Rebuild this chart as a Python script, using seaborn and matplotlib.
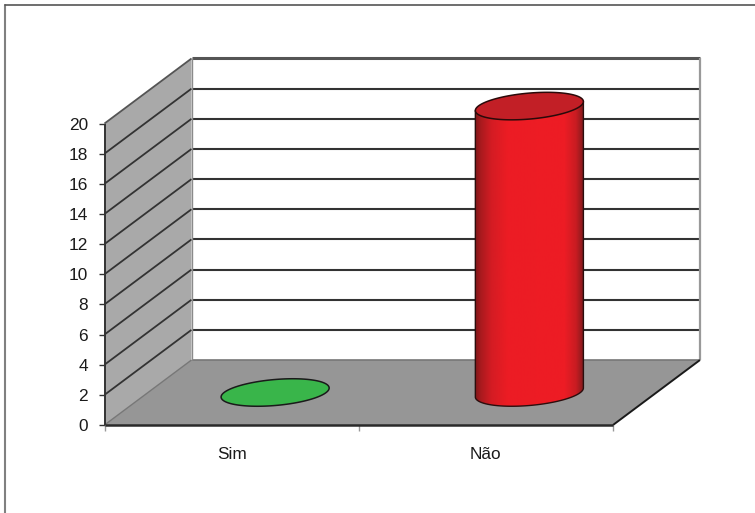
import numpy as np
import pandas as pd
import matplotlib
matplotlib.use("Agg")
import matplotlib.pyplot as plt
from matplotlib.patches import Polygon
from matplotlib.lines import Line2D
from matplotlib.colors import LinearSegmentedColormap
import seaborn as sns

categories = ["Sim", "Não"]
values = [0, 19]
bar_colors = ["#39b54a", "#ee1c25"]
y_ticks = list(range(0, 21, 2))

sns.set_theme(style="white")
plt.rcParams["font.family"] = ["Liberation Sans", "DejaVu Sans"]

W, H = 755, 513
fig = plt.figure(figsize=(W / 100, H / 100), dpi=100, facecolor="white")
L, R, T, B = 104.5, 613.0, 123.5, 425.0
ax = fig.add_axes([L / W, 1 - B / H, (R - L) / W, (B - T) / H])
ax.patch.set_visible(False)

df = pd.DataFrame({"cat": categories, "val": values})
sns.barplot(data=df, x="cat", y="val", hue="cat", palette=bar_colors, width=0.425,
            legend=False, ax=ax, saturation=1, linewidth=0)
ax.set_xlim(-0.5, 1.5)
ax.set_ylim(0, 20)
ax.set_xlabel("")
ax.set_ylabel("")

px_x = (R - L) / 2          # pixels per category
px_y = (B - T) / 20         # pixels per value
DX, DY = 87 / px_x, 65 / px_y   # chart depth in data units


def line(xs, ys, color, lw, z=3):
    ax.add_line(Line2D(xs, ys, color=color, lw=lw, clip_on=False, zorder=z,
                       solid_capstyle="butt"))


# walls and floor
ax.add_patch(Polygon([(-0.5, 0), (-0.5 + DX, DY), (-0.5 + DX, 20 + DY), (-0.5, 20)],
                     fc="#a9a9a9", ec="none", clip_on=False, zorder=0))
ax.add_patch(Polygon([(-0.5, 0), (1.5, 0), (1.5 + DX, DY), (-0.5 + DX, DY)],
                     fc="#969696", ec="none", clip_on=False, zorder=0))

for v in y_ticks[1:]:
    c, w = ("#555555", 2.2) if v == 20 else ("#333333", 1.5)
    line([-0.5, -0.5 + DX], [v, v + DY], c, 1.3)
    line([-0.5 + DX, 1.5 + DX], [v + DY, v + DY], c, w)
line([-0.5 + DX, 1.5 + DX], [DY, DY], "#777777", 1.2)
line([-0.5, -0.5 + DX], [0, DY], "#777777", 1.0)
line([-0.5 + DX, -0.5 + DX], [DY, 20 + DY], "#8a8a8a", 1.0)
line([1.5 + DX, 1.5 + DX], [DY, 20 + DY], "#999999", 1.6)
line([1.5, 1.5 + DX], [0, DY], "#1a1a1a", 1.4)
line([-0.5, 1.5], [0, 0], "#2a2a2a", 1.8, z=6)
line([-0.5, -0.5], [0, 20], "#333333", 1.4, z=6)

# cylinders built on the bars seaborn drew
ramp = LinearSegmentedColormap.from_list(
    "cyl", [(0, "#7d1718"), (0.05, "#a81a1e"), (0.15, "#d41c23"), (0.3, "#ec1c24"),
            (0.82, "#ee1c25"), (0.93, "#c81c22"), (1, "#7f1a1c")])
t = np.linspace(0, 2 * np.pi, 181)
for bar, col in zip(ax.patches[:2], bar_colors):
    bw, h = bar.get_width(), bar.get_height()
    cx = bar.get_x() + bw / 2 + DX / 2
    base = DY / 2
    bar.set_x(cx - bw / 2)
    bar.set_y(base)
    bar.set_clip_on(False)
    bar.set_zorder(2)
    ex = bw / 2 * np.cos(t)
    ey = (4.5 * np.cos(t) - 13.0 * np.sin(t)) / px_y
    if h > 0:
        low = (t >= 0) & (t <= np.pi)
        body = np.vstack([
            [[cx + bw / 2, base + h + ey[low][0]]],
            np.column_stack([cx + ex[low], base + ey[low]]),
            [[cx - bw / 2, base + h + ey[low][-1]]],
        ])
        body_patch = Polygon(body, closed=True, fc="none", ec="none", transform=ax.transData)
        ax.add_patch(body_patch)
        body_patch.set_clip_on(False)
        bar.set_visible(False)
        im = ax.imshow(np.linspace(0, 1, 256)[None, :], cmap=ramp, aspect="auto",
                       extent=[cx - bw / 2, cx + bw / 2, base - 2, base + h + 2], zorder=3)
        im.set_clip_box(fig.bbox)
        im.set_clip_path(body_patch)
        ax.set_xlim(-0.5, 1.5)
        ax.set_ylim(0, 20)
        ax.add_line(Line2D(body[:, 0], body[:, 1], color="#2b0d0d", lw=1.0, clip_on=False, zorder=4))
        ax.add_patch(Polygon(np.column_stack([cx + ex, base + h + ey]), fc="#c21f26",
                             ec="#2a0a0a", lw=1.1, clip_on=False, zorder=5))
    else:
        ax.add_patch(Polygon(np.column_stack([cx + ex, base + ey]), fc=col,
                             ec="#1a1a1a", lw=1.1, clip_on=False, zorder=5))

for s in ax.spines.values():
    s.set_visible(False)
ax.set_xticks([-0.5, 0.5, 1.5], labels=[])
ax.set_yticks(y_ticks, labels=[str(v) for v in y_ticks])
ax.tick_params(axis="y", left=True, length=4, width=1, color="#333333", pad=8,
               labelsize=12.4, labelcolor="#1a1a1a")
ax.tick_params(axis="x", bottom=True, length=4, width=1, color="#999999")
for x, lab in enumerate(categories):
    ax.annotate(lab, (x, 0), xytext=(0, -21), textcoords="offset points", ha="center",
                va="center", fontsize=12.4, color="#1a1a1a", annotation_clip=False)

# outer picture frame
fig.add_artist(Line2D([5 / W, 5 / W], [0, 1 - 5 / H], color="#808080", lw=1.5))
fig.add_artist(Line2D([5 / W, 1], [1 - 5 / H, 1 - 5 / H], color="#555555", lw=1.2))

fig.savefig("out.png", dpi=100)
